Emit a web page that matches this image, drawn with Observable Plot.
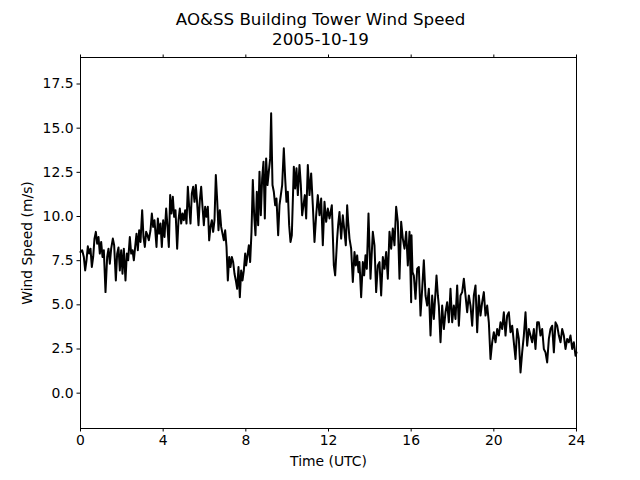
<!DOCTYPE html>
<html><head><meta charset="utf-8">
<script src="https://cdn.jsdelivr.net/npm/d3@7"></script>
<script src="https://cdn.jsdelivr.net/npm/@observablehq/plot@0.6"></script>
<style>html,body{margin:0;padding:0;background:#fff;} svg{display:block}</style>
</head><body><div id="chart"></div>
<script>
const titleLines = ["AO&SS Building Tower Wind Speed", "2005-10-19"];
const xLabel = "Time (UTC)";
const yLabel = "Wind Speed (m/s)";
const xTicks = [0, 4, 8, 12, 16, 20, 24];
const yTicks = [0, 2.5, 5, 7.5, 10, 12.5, 15, 17.5];

// time of day (hours, UTC)
const hours = [
  0, 0.081, 0.161, 0.226, 0.290, 0.355, 0.419, 0.484, 0.548, 0.613,
  0.677, 0.742, 0.806, 0.871, 0.935, 1.0, 1.065, 1.129, 1.210, 1.290,
  1.355, 1.419, 1.484, 1.565, 1.629, 1.710, 1.774, 1.839, 1.903, 1.968,
  2.032, 2.097, 2.177, 2.242, 2.306, 2.387, 2.452, 2.516, 2.581, 2.645,
  2.710, 2.774, 2.839, 2.903, 2.984, 3.048, 3.113, 3.177, 3.242, 3.306,
  3.387, 3.452, 3.516, 3.581, 3.677, 3.742, 3.806, 3.871, 3.935, 4.0,
  4.065, 4.145, 4.210, 4.274, 4.339, 4.403, 4.468, 4.532, 4.597, 4.677,
  4.742, 4.806, 4.871, 4.935, 5.0, 5.065, 5.129, 5.194, 5.258, 5.323,
  5.387, 5.452, 5.516, 5.581, 5.645, 5.710, 5.774, 5.839, 5.903, 5.968,
  6.032, 6.097, 6.161, 6.226, 6.290, 6.355, 6.419, 6.484, 6.548, 6.613,
  6.677, 6.742, 6.806, 6.871, 6.935, 7.0, 7.065, 7.129, 7.194, 7.258,
  7.323, 7.387, 7.452, 7.516, 7.581, 7.645, 7.710, 7.774, 7.839, 7.903,
  7.968,
  8.016, 8.080, 8.145, 8.209, 8.274, 8.338, 8.403, 8.467, 8.532, 8.596,
  8.661, 8.725, 8.790, 8.854, 8.919, 8.983, 9.048, 9.112, 9.177, 9.225,
  9.290, 9.354, 9.419, 9.483, 9.564, 9.629, 9.693, 9.758, 9.838, 9.903,
  9.967, 10.032, 10.096, 10.161, 10.225, 10.322, 10.387, 10.451, 10.516, 10.596,
  10.661, 10.725, 10.790, 10.854, 10.919, 10.999, 11.080, 11.161, 11.241, 11.322,
  11.403, 11.483, 11.564, 11.645, 11.725, 11.806, 11.887, 11.967, 12.048, 12.161,
  12.258, 12.322, 12.419, 12.467, 12.532, 12.612, 12.693, 12.774, 12.838, 12.903,
  12.951, 13.016, 13.096, 13.177, 13.258, 13.322, 13.387, 13.451, 13.499, 13.580,
  13.661, 13.725, 13.790, 13.854, 13.935, 14.032, 14.096, 14.145, 14.225, 14.306,
  14.387, 14.467, 14.548, 14.629, 14.709, 14.790, 14.870, 14.951, 15.032, 15.112,
  15.193, 15.274, 15.354, 15.435, 15.516, 15.596, 15.677, 15.758, 15.838, 15.919,
  16.0,
  16.016, 16.065, 16.129, 16.210, 16.291, 16.371, 16.452, 16.533, 16.613, 16.694,
  16.774, 16.855, 16.936, 17.016, 17.097, 17.226, 17.291, 17.339, 17.420, 17.500,
  17.581, 17.661, 17.742, 17.823, 17.903, 17.984, 18.065, 18.145, 18.226, 18.307,
  18.387, 18.468, 18.549, 18.629, 18.710, 18.791, 18.871, 18.952, 19.032, 19.113,
  19.194, 19.274, 19.355, 19.436, 19.516, 19.597, 19.678, 19.758, 19.839, 19.920,
  20.0, 20.081, 20.162, 20.242, 20.323, 20.404, 20.484, 20.565, 20.645, 20.726,
  20.807, 20.887, 20.968, 21.049, 21.129, 21.210, 21.291, 21.371, 21.452, 21.533,
  21.613, 21.694, 21.775, 21.855, 21.936, 22.016, 22.097, 22.178, 22.258, 22.339,
  22.420, 22.500, 22.581, 22.662, 22.742, 22.823, 22.904, 22.984, 23.065, 23.146,
  23.226, 23.307, 23.388, 23.468, 23.549, 23.629, 23.710, 23.791, 23.871, 23.952,
  24.0
];

// wind speed (m/s)
const speeds = [
  7.99, 8.09, 7.71, 6.95, 7.52, 8.31, 7.90, 8.18, 7.14, 7.71,
  8.75, 9.13, 8.46, 8.84, 7.90, 8.56, 7.71, 8.09, 5.72, 7.71,
  8.18, 7.33, 8.18, 8.75, 8.37, 6.38, 7.90, 8.24, 6.95, 8.09,
  6.76, 8.18, 6.38, 7.90, 7.52, 8.84, 7.90, 8.09, 7.52, 8.28,
  9.03, 8.09, 9.22, 8.56, 10.36, 8.84, 8.28, 9.13, 8.94, 8.65,
  9.22, 10.17, 9.41, 9.79, 8.28, 9.89, 9.03, 9.60, 8.28, 9.79,
  8.84, 10.45, 9.41, 8.28, 11.21, 10.17, 11.12, 9.98, 10.36, 8.18,
  9.79, 10.45, 9.60, 10.17, 9.79, 10.36, 9.60, 11.68, 10.55, 9.60,
  11.31, 11.68, 10.83, 11.78, 10.74, 9.51, 10.93, 11.68, 10.55, 9.51,
  10.55, 9.98, 10.55, 8.65, 9.41, 9.79, 9.13, 9.79, 12.35, 10.93,
  9.22, 10.36, 9.41, 9.03, 8.65, 9.22, 8.28, 6.38, 7.71, 7.14,
  7.71, 7.42, 6.76, 6.38, 5.91, 7.14, 5.43, 6.95, 6.38, 6.95,
  7.90,
  7.23, 7.80, 8.37, 7.42, 9.13, 12.06, 10.07, 8.94, 11.40, 9.51,
  12.54, 10.07, 12.16, 13.10, 9.89, 13.29, 11.78, 12.54, 13.29, 15.85,
  11.78, 11.40, 10.64, 11.02, 8.94, 10.64, 11.21, 11.78, 13.86, 12.16,
  10.83, 11.40, 9.51, 8.56, 8.94, 12.82, 11.59, 12.73, 11.21, 12.92,
  11.78, 10.07, 10.64, 11.21, 9.89, 12.92, 11.21, 12.44, 10.64, 8.56,
  10.07, 11.21, 10.07, 11.02, 8.37, 10.83, 9.70, 10.45, 9.89, 10.64,
  7.23, 6.67, 8.75, 9.51, 10.26, 8.75, 10.07, 9.13, 8.37, 10.64,
  9.70, 8.75, 8.18, 6.29, 7.99, 7.23, 7.80, 6.85, 7.42, 5.43,
  7.42, 6.67, 7.80, 7.04, 10.17, 6.48, 7.99, 9.13, 8.37, 5.72,
  7.23, 7.42, 5.53, 7.71, 7.04, 7.99, 6.48, 9.13, 8.18, 9.32,
  8.37, 10.55, 9.70, 6.48, 9.70, 8.75, 8.18, 9.13, 7.23, 9.13,
  5.15,
  8.94, 6.85, 6.66, 5.34, 7.04, 7.14, 4.39, 5.91, 7.52, 5.53,
  4.96, 5.91, 3.26, 5.53, 4.20, 6.66, 5.53, 4.96, 2.88, 4.96,
  3.63, 4.58, 5.15, 4.01, 5.91, 4.01, 4.96, 4.20, 6.10, 3.82,
  5.53, 5.72, 6.48, 5.53, 4.58, 5.53, 4.96, 3.82, 5.53, 6.10,
  3.45, 5.53, 4.39, 5.15, 5.72, 4.39, 4.96, 4.01, 1.93, 2.88,
  3.45, 2.88, 3.63, 3.26, 4.01, 3.63, 4.58, 3.26, 4.39, 4.58,
  3.45, 3.82, 2.88, 1.93, 3.63, 3.07, 1.17, 2.31, 3.26, 4.58,
  2.69, 3.63, 3.26, 2.88, 3.63, 2.50, 4.01, 4.01, 3.26, 3.63,
  2.50, 2.31, 1.74, 3.07, 3.63, 3.82, 2.31, 4.01, 3.82, 3.26,
  2.88, 3.63, 3.26, 2.50, 3.07, 2.88, 3.26, 2.50, 2.88, 2.12,
  2.31
];

const n = Math.min(hours.length, speeds.length);
const data = d3.range(n).map(i => ({t: hours[i], v: speeds[i]}));

const chart = Plot.plot({
  width: 640,
  height: 480,
  marginLeft: 80,
  marginRight: 64,
  marginTop: 57,
  marginBottom: 52,
  style: {fontFamily: "'DejaVu Sans', sans-serif", fontSize: "13.9px", color: "black", background: "white", overflow: "visible"},
  x: {domain: [0, 24]},
  y: {domain: [-2.0, 19.0]},
  marks: [
    Plot.line(data, {x: "t", y: "v", stroke: "black", strokeWidth: 2, strokeLinejoin: "round"}),
    Plot.frame({stroke: "black", strokeWidth: 1}),
    Plot.axisX({ticks: xTicks, tickSize: 3.5, tickPadding: 3.5, tickFormat: d => String(d), label: null}),
    Plot.axisX({anchor: "top", ticks: xTicks, tickSize: 3.5, tickFormat: () => "", label: null}),
    Plot.axisY({ticks: yTicks, tickSize: 3.5, tickPadding: 3.5, tickFormat: d3.format(".1f"), label: null}),
    Plot.text([titleLines.join("\n")], {text: d => d, frameAnchor: "top", dx: -8, dy: -13, lineAnchor: "bottom", lineHeight: 1.2, fontSize: 16.67, fill: "black"}),
    Plot.text([xLabel], {text: d => d, frameAnchor: "bottom", dy: 33, lineAnchor: "middle", fontSize: 13.9, fill: "black"}),
    Plot.text([yLabel], {text: d => d, frameAnchor: "left", dx: -53, rotate: -90, lineAnchor: "middle", textAnchor: "middle", fontSize: 13.9, fill: "black"})
  ]
});
document.getElementById("chart").appendChild(chart);
</script>
</body></html>
